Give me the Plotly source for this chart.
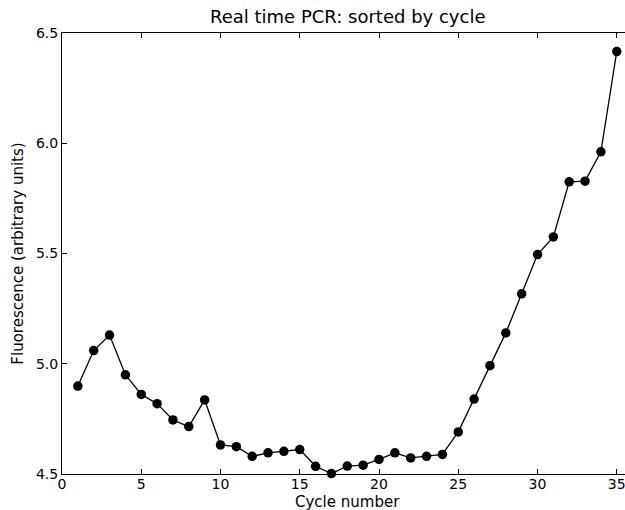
import plotly.graph_objects as go

# Real-time PCR fluorescence readings, one per amplification cycle
cycles = list(range(1, 36))
fluorescence = [
    4.899, 5.060, 5.130, 4.950, 4.861, 4.819, 4.745, 4.715, 4.836, 4.632,
    4.624, 4.580, 4.596, 4.603, 4.611, 4.535, 4.502, 4.536, 4.540, 4.566,
    4.596, 4.573, 4.580, 4.589, 4.691, 4.840, 4.991, 5.140, 5.317, 5.495,
    5.575, 5.825, 5.828, 5.961, 6.416,
]
x_ticks = [0, 5, 10, 15, 20, 25, 30, 35]
y_ticks = [4.5, 5.0, 5.5, 6.0, 6.5]
y_tick_text = ["4.5", "5.0", "5.5", "6.0", "6.5"]

W, H = 625, 510
ML, MT, MB = 62, 32.5, 35.7
px_per_cycle = 15.85
x_max = (W - ML) / px_per_cycle
plot_h = H - MT - MB

FONT = "DejaVu Sans"

fig = go.Figure()
fig.add_trace(go.Scatter(
    x=cycles, y=fluorescence, mode="lines+markers",
    line=dict(color="black", width=1.3),
    marker=dict(color="black", size=9.5),
    cliponaxis=False, showlegend=False,
))
# Empty trace that registers the top axis (mirrored ticks)
fig.add_trace(go.Scatter(x=[], y=[], xaxis="x2", showlegend=False))

axis_common = dict(
    showline=True, linecolor="black", linewidth=1,
    ticks="inside", ticklen=5, tickwidth=1, tickcolor="black",
    showgrid=False, zeroline=False,
)

fig.update_layout(
    width=W, height=H,
    margin=dict(l=ML, r=0, t=MT, b=MB, pad=0),
    paper_bgcolor="white", plot_bgcolor="white",
    font=dict(family=FONT, color="black"),
    xaxis=dict(
        range=[0, x_max], tickvals=x_ticks,
        tickfont=dict(size=14), ticklabeloverflow="allow",
        ticklabelstandoff=-3,
        **axis_common,
    ),
    xaxis2=dict(
        range=[0, x_max], tickvals=x_ticks, overlaying="x", side="top",
        showticklabels=False, matches="x",
        **axis_common,
    ),
    yaxis=dict(
        range=[4.5, 6.5], tickvals=y_ticks, ticktext=y_tick_text,
        tickfont=dict(size=14),
        title=dict(text="Fluorescence (arbitrary units)", font=dict(size=15), standoff=8),
        **axis_common,
    ),
    annotations=[
        dict(
            text="Real time PCR: sorted by cycle",
            xref="paper", yref="paper",
            x=(347 - ML) / (W - ML), y=1, yshift=4,
            xanchor="center", yanchor="bottom",
            showarrow=False, font=dict(size=18, family=FONT),
        ),
        dict(
            text="Cycle number",
            xref="paper", yref="paper",
            x=(347 - ML) / (W - ML), y=-(502.5 - (H - MB)) / plot_h,
            xanchor="center", yanchor="middle",
            showarrow=False, font=dict(size=15, family=FONT),
        ),
    ],
)

fig.write_html("out.html")
